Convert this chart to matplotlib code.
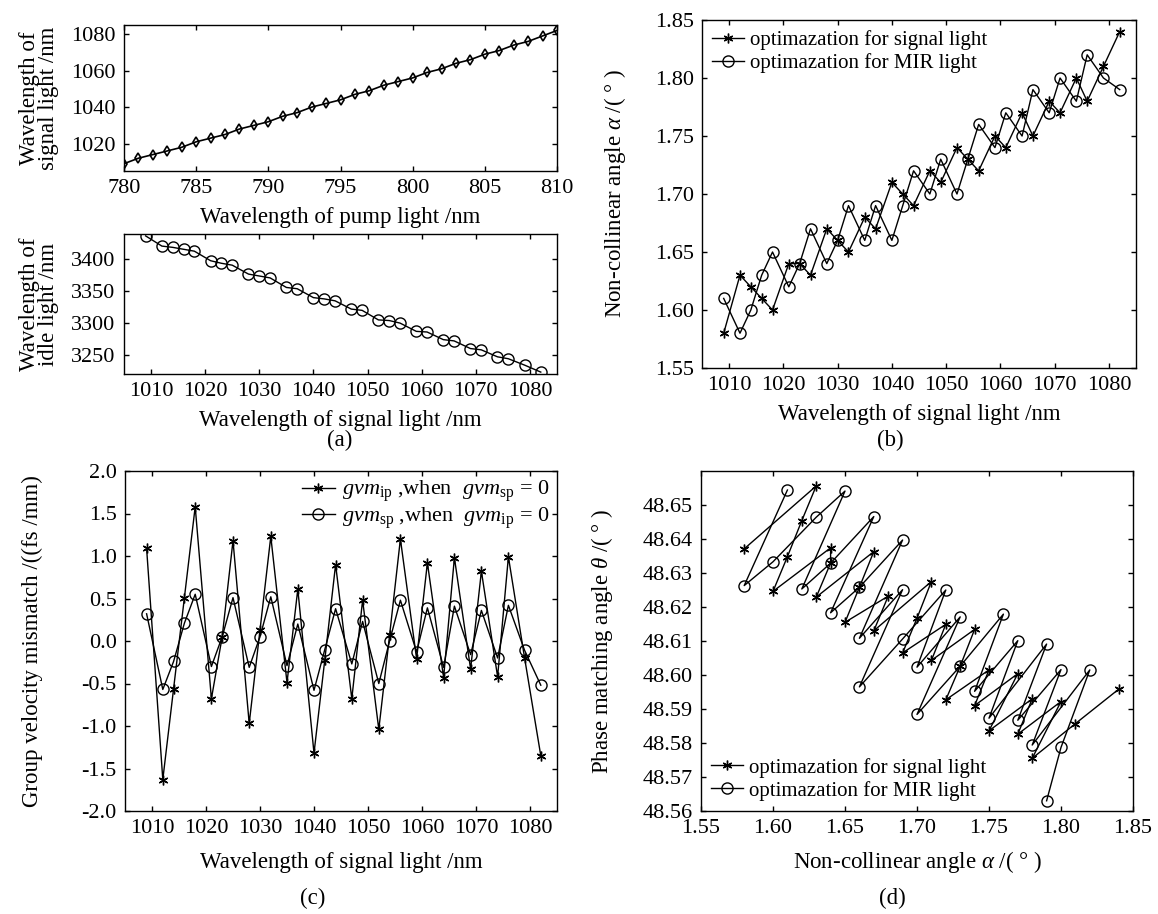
import matplotlib
matplotlib.use('Agg')
import matplotlib.pyplot as plt
from matplotlib.ticker import FormatStrFormatter

# ---------------- data ----------------
pump_wl = [780, 781, 782, 783, 784, 785, 786, 787, 788, 789, 790, 791, 792, 793, 794, 795,
           796, 797, 798, 799, 800, 801, 802, 803, 804, 805, 806, 807, 808, 809, 810]
signal_wl = [1009, 1012, 1014, 1016, 1018, 1021, 1023, 1025, 1028, 1030, 1032, 1035, 1037,
             1040, 1042, 1044, 1047, 1049, 1052, 1054, 1056, 1059, 1061, 1064, 1066, 1069,
             1071, 1074, 1076, 1079, 1082]
idler_wl = [3437, 3421, 3419, 3416, 3413, 3398, 3394, 3391, 3377, 3374, 3371, 3356, 3354,
            3340, 3338, 3335, 3322, 3320, 3305, 3304, 3300, 3287, 3286, 3274, 3272, 3260,
            3258, 3247, 3244, 3234, 3223]
alpha_sig = [1.58, 1.63, 1.62, 1.61, 1.60, 1.64, 1.64, 1.63, 1.67, 1.66, 1.65, 1.68, 1.67,
             1.71, 1.70, 1.69, 1.72, 1.71, 1.74, 1.73, 1.72, 1.75, 1.74, 1.77, 1.75, 1.78,
             1.77, 1.80, 1.78, 1.81, 1.84]
alpha_mir = [1.61, 1.58, 1.60, 1.63, 1.65, 1.62, 1.64, 1.67, 1.64, 1.66, 1.69, 1.66, 1.69,
             1.66, 1.69, 1.72, 1.70, 1.73, 1.70, 1.73, 1.76, 1.74, 1.77, 1.75, 1.79, 1.77,
             1.80, 1.78, 1.82, 1.80, 1.79]
gvm_ip = [1.09, -1.63, -0.56, 0.51, 1.58, -0.68, 0.05, 1.18, -0.97, 0.13, 1.23, -0.49, 0.61,
          -1.32, -0.22, 0.90, -0.68, 0.48, -1.04, 0.07, 1.20, -0.21, 0.92, -0.43, 0.98, -0.33,
          0.82, -0.42, 0.99, -0.20, -1.35]
gvm_sp = [0.32, -0.57, -0.24, 0.21, 0.55, -0.30, 0.05, 0.51, -0.31, 0.05, 0.52, -0.29, 0.20,
          -0.58, -0.10, 0.38, -0.27, 0.23, -0.50, 0.00, 0.48, -0.13, 0.39, -0.31, 0.41, -0.16,
          0.36, -0.20, 0.42, -0.11, -0.52]
theta_sig = [48.6371, 48.6556, 48.6454, 48.6348, 48.6246, 48.6374, 48.6329, 48.6229, 48.6363,
             48.6258, 48.6155, 48.6232, 48.6130, 48.6275, 48.6167, 48.6065, 48.6149, 48.6043,
             48.6134, 48.6026, 48.5927, 48.6015, 48.5910, 48.6004, 48.5836, 48.5930, 48.5826,
             48.5922, 48.5755, 48.5857, 48.5958]
theta_mir = [48.6544, 48.6263, 48.6333, 48.6464, 48.6541, 48.6253, 48.6329, 48.6466, 48.6183,
             48.6258, 48.6397, 48.6108, 48.6251, 48.5965, 48.6106, 48.6250, 48.6023, 48.6171,
             48.5884, 48.6026, 48.6179, 48.5952, 48.6101, 48.5873, 48.6091, 48.5867, 48.6016,
             48.5794, 48.6015, 48.5787, 48.5630]

label_sig = 'optimazation for signal light'
label_mir = 'optimazation for MIR light'
label_ip = r'$\mathit{gvm}_{\mathrm{ip}}$ ,when  $\mathit{gvm}_{\mathrm{sp}}$ = 0'
label_sp = r'$\mathit{gvm}_{\mathrm{sp}}$ ,when  $\mathit{gvm}_{\mathrm{ip}}$ = 0'

# ---------------- style ----------------
plt.rcParams['font.family'] = ['Liberation Serif', 'DejaVu Serif']
plt.rcParams['mathtext.fontset'] = 'custom'
plt.rcParams['mathtext.rm'] = 'Liberation Serif'
plt.rcParams['mathtext.it'] = 'Liberation Serif:italic'
plt.rcParams['mathtext.bf'] = 'Liberation Serif:bold'
plt.rcParams['xtick.direction'] = 'in'
plt.rcParams['ytick.direction'] = 'in'
plt.rcParams['xtick.top'] = True
plt.rcParams['ytick.right'] = True
plt.rcParams['xtick.major.size'] = 3.5
plt.rcParams['ytick.major.size'] = 3.5
plt.rcParams['axes.linewidth'] = 1.0
plt.rcParams['axes.unicode_minus'] = True

TICK_FS = 16
LAB_FS = 16.5
LEG_FS = 15

W, H = 1158, 914
fig = plt.figure(figsize=(W / 100, H / 100), dpi=100)


def add_ax(l, r, t, b):
    return fig.add_axes([l / W, 1 - b / H, (r - l) / W, (b - t) / H])


ASTER = (6, 2, 0)
st_kw = dict(color='black', lw=1.0, marker=ASTER, ms=7, mew=1.0)
ci_kw = dict(color='black', lw=1.0, marker='o', ms=8, mfc='none', mew=1.0)
leg_kw = dict(frameon=False, fontsize=LEG_FS, handlelength=1.5, handletextpad=0.3,
              labelspacing=0.15, borderaxespad=0.3, borderpad=0.2)


def style(ax, xpad=6):
    ax.tick_params(labelsize=TICK_FS, width=1.0)
    ax.tick_params(axis='x', pad=xpad)
    ax.tick_params(axis='y', pad=6)
    for s in ax.spines.values():
        s.set_linewidth(1.0)


# ---- (a) top ----
ax1 = add_ax(124, 557, 25, 171)
ax1.plot(pump_wl, signal_wl, color='black', lw=1.2, marker='d', ms=5, mfc='none', mew=1.2)
ax1.set_xlim(780, 810)
ax1.set_ylim(1005, 1085)
ax1.set_xticks([780, 785, 790, 795, 800, 805, 810])
ax1.set_yticks([1020, 1040, 1060, 1080])
ax1.set_xlabel('Wavelength of pump light /nm', fontsize=LAB_FS, labelpad=6)
ax1.set_ylabel('Wavelength of\nsignal light /nm', fontsize=LAB_FS, linespacing=0.85)
ax1.yaxis.set_label_coords(-0.15, 0.5)
style(ax1)

# ---- (a) bottom ----
ax2 = add_ax(124, 557, 234, 374)
ax2.plot(signal_wl, idler_wl, **ci_kw)
ax2.set_xlim(1005, 1085)
ax2.set_ylim(3220, 3440)
ax2.set_xticks([1010, 1020, 1030, 1040, 1050, 1060, 1070, 1080])
ax2.set_yticks([3250, 3300, 3350, 3400])
ax2.set_xlabel('Wavelength of signal light /nm', fontsize=LAB_FS, labelpad=6)
ax2.set_ylabel('Wavelength of\nidle light /nm', fontsize=LAB_FS, linespacing=0.85)
ax2.yaxis.set_label_coords(-0.15, 0.5)
style(ax2)
fig.text(340 / W, 1 - 440 / H, '(a)', ha='center', va='center', fontsize=LAB_FS)

# ---- (b) ----
ax3 = add_ax(702, 1136, 20, 368)
ax3.plot(signal_wl, alpha_sig, label=label_sig, **st_kw)
ax3.plot(signal_wl, alpha_mir, label=label_mir, **ci_kw)
ax3.set_xlim(1005, 1085)
ax3.set_ylim(1.55, 1.85)
ax3.set_xticks([1010, 1020, 1030, 1040, 1050, 1060, 1070, 1080])
ax3.set_yticks([1.55, 1.60, 1.65, 1.70, 1.75, 1.80, 1.85])
ax3.yaxis.set_major_formatter(FormatStrFormatter('%.2f'))
ax3.set_xlabel('Wavelength of signal light /nm', fontsize=LAB_FS, labelpad=6)
ax3.set_ylabel(r'Non-collinear angle $\alpha$ /( ° )', fontsize=LAB_FS)
ax3.yaxis.set_label_coords(-0.17, 0.5)
ax3.legend(loc='upper left', **leg_kw)
style(ax3)
fig.text(890 / W, 1 - 440 / H, '(b)', ha='center', va='center', fontsize=LAB_FS)

# ---- (c) ----
ax4 = add_ax(125, 557, 471, 811)
ax4.plot(signal_wl, gvm_ip, label=label_ip, **st_kw)
ax4.plot(signal_wl, gvm_sp, label=label_sp, **ci_kw)
ax4.set_xlim(1005, 1085)
ax4.set_ylim(-2.0, 2.0)
ax4.set_xticks([1010, 1020, 1030, 1040, 1050, 1060, 1070, 1080])
ax4.set_yticks([-2.0, -1.5, -1.0, -0.5, 0.0, 0.5, 1.0, 1.5, 2.0])
ax4.yaxis.set_major_formatter(FormatStrFormatter('%.1f'))
ax4.set_xlabel('Wavelength of signal light /nm', fontsize=LAB_FS, labelpad=10)
ax4.set_ylabel('Group velocity mismatch /((fs /mm)', fontsize=LAB_FS)
ax4.yaxis.set_label_coords(-0.19, 0.5)
ax4.legend(loc='upper right', **dict(leg_kw, fontsize=16, labelspacing=0.05,
                                     borderaxespad=0.15))
style(ax4)
fig.text(313 / W, 1 - 898 / H, '(c)', ha='center', va='center', fontsize=LAB_FS)

# ---- (d) ----
ax5 = add_ax(701, 1133, 471, 811)
ax5.plot(alpha_sig, theta_sig, label=label_sig, **st_kw)
ax5.plot(alpha_mir, theta_mir, label=label_mir, **ci_kw)
ax5.set_xlim(1.55, 1.85)
ax5.set_ylim(48.56, 48.66)
ax5.set_xticks([1.55, 1.60, 1.65, 1.70, 1.75, 1.80, 1.85])
ax5.set_yticks([48.56, 48.57, 48.58, 48.59, 48.60, 48.61, 48.62, 48.63, 48.64, 48.65])
ax5.xaxis.set_major_formatter(FormatStrFormatter('%.2f'))
ax5.yaxis.set_major_formatter(FormatStrFormatter('%.2f'))
ax5.set_xlabel(r'Non-collinear angle $\alpha$ /( ° )', fontsize=LAB_FS, labelpad=8)
ax5.set_ylabel(r'Phase matching angle $\theta$ /( ° )', fontsize=LAB_FS)
ax5.yaxis.set_label_coords(-0.2, 0.5)
ax5.legend(loc='lower left', **leg_kw)
style(ax5, xpad=6)
fig.text(892 / W, 1 - 898 / H, '(d)', ha='center', va='center', fontsize=LAB_FS)

fig.savefig('out.png', dpi=100)
